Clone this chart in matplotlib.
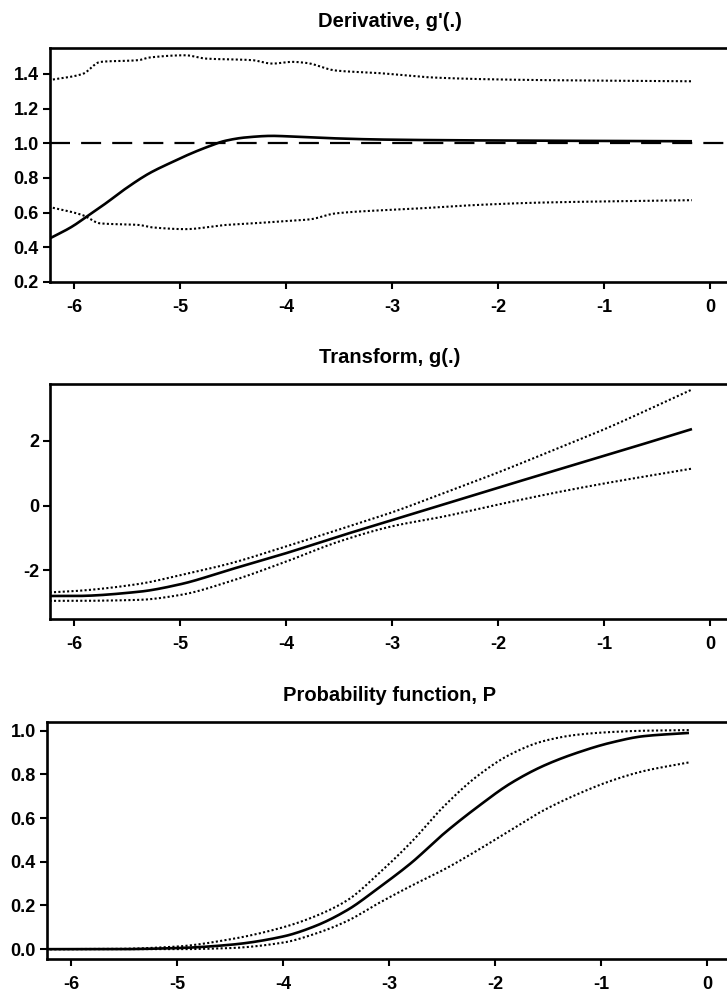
"""
Three stacked panels: derivative, transform and probability function
with their pointwise bands (dotted).
"""

import matplotlib
matplotlib.use("Agg")
import matplotlib.pyplot as plt
import numpy as np

plt.rcParams["font.family"] = ["Liberation Sans", "DejaVu Sans"]
plt.rcParams["axes.unicode_minus"] = False

# --- Derivative, g'(.) ---
d_x = [-6.24, -6.02, -5.86, -5.70, -5.51, -5.29, -5.07, -4.92, -4.76, -4.57, -4.38, -4.13,
       -3.88, -3.69, -3.12, -2.5, -1.5, -0.17]
d_mid = [0.448, 0.519, 0.586, 0.654, 0.74, 0.827, 0.893, 0.935, 0.975, 1.015, 1.034, 1.043,
         1.037, 1.032, 1.022, 1.018, 1.015, 1.012]

d_up_x = [-6.24, -5.92, -5.75, -5.39, -5.29, -4.95, -4.76, -4.32, -4.13, -3.94, -3.81, -3.53,
          -3.12, -2.62, -2.12, -1.61, -0.17]
d_up = [1.364, 1.40, 1.47, 1.48, 1.495, 1.508, 1.489, 1.48, 1.46, 1.47, 1.464, 1.42,
        1.405, 1.38, 1.37, 1.365, 1.358]

d_lo_x = [-6.24, -5.92, -5.75, -5.39, -5.26, -4.95, -4.57, -4.32, -4.0, -3.78, -3.53, -2.81,
          -2.18, -1.61, -0.17]
d_lo = [0.634, 0.586, 0.538, 0.529, 0.515, 0.505, 0.529, 0.538, 0.552, 0.561, 0.596, 0.622,
        0.645, 0.658, 0.672]

# --- Transform, g(.) ---
t_x = [-6.23, -6.0, -5.39, -5.0, -4.52, -4.0, -3.5, -3.0, -2.5, -2.0, -1.44, -1.0, -0.17]
t_mid = [-2.79, -2.79, -2.66, -2.43, -1.97, -1.47, -0.95, -0.45, 0.05, 0.55, 1.10, 1.53, 2.36]
t_up = [-2.68, -2.64, -2.42, -2.15, -1.78, -1.26, -0.74, -0.21, 0.40, 1.02, 1.76, 2.35, 3.58]
t_lo = [-2.94, -2.94, -2.91, -2.76, -2.33, -1.73, -1.11, -0.64, -0.33, 0.03, 0.41, 0.68, 1.14]

# --- Probability function, P ---
p_x = [-6.24, -5.6, -5.0, -4.5, -4.0, -3.70, -3.39, -3.10, -2.79, -2.48, -2.16, -1.85,
       -1.54, -1.22, -0.91, -0.60, -0.17]
p_mid = [0.0, 0.0, 0.005, 0.02, 0.058, 0.105, 0.18, 0.28, 0.395, 0.53, 0.653, 0.76,
         0.84, 0.90, 0.945, 0.975, 0.99]
p_up = [0.0, 0.001, 0.012, 0.045, 0.10, 0.15, 0.225, 0.345, 0.49, 0.655, 0.795, 0.893,
        0.953, 0.982, 0.994, 1.0, 1.003]
p_lo = [0.0, 0.0, 0.0, 0.005, 0.03, 0.07, 0.13, 0.21, 0.29, 0.365, 0.454, 0.546,
        0.636, 0.71, 0.77, 0.815, 0.855]

titles = ["Derivative, g'(.)", "Transform, g(.)", "Probability function, P"]
y_ticks = [[0.2, 0.4, 0.6, 0.8, 1.0, 1.2, 1.4], [-2, 0, 2], [0.0, 0.2, 0.4, 0.6, 0.8, 1.0]]
y_labels = [["0.2", "0.4", "0.6", "0.8", "1.0", "1.2", "1.4"], ["-2", "0", "2"],
            ["0.0", "0.2", "0.4", "0.6", "0.8", "1.0"]]
y_limits = [(0.2, 1.55), (-3.5, 3.75), (-0.045, 1.04)]
x_ticks = [-6, -5, -4, -3, -2, -1, 0]

W, H = 727, 992
fig = plt.figure(figsize=(W / 100, H / 100), dpi=100)

# pixel boxes: left, top, bottom (right runs off the page)
boxes = [(50, 48, 282), (50, 384, 619), (47, 722, 959)]
right_px = 760
px_per_unit = 106.0


def pchip(xs, ys, n=400):
    # shape preserving cubic through the read points
    x = np.asarray(xs, float)
    y = np.asarray(ys, float)
    h = np.diff(x)
    delta = np.diff(y) / h
    m = np.zeros_like(y)
    for k in range(1, len(x) - 1):
        if delta[k - 1] * delta[k] > 0:
            w1 = 2 * h[k] + h[k - 1]
            w2 = h[k] + 2 * h[k - 1]
            m[k] = (w1 + w2) / (w1 / delta[k - 1] + w2 / delta[k])
    m[0] = delta[0]
    m[-1] = delta[-1]
    xx = np.linspace(x[0], x[-1], n)
    idx = np.clip(np.searchsorted(x, xx) - 1, 0, len(x) - 2)
    t = (xx - x[idx]) / h[idx]
    h00 = 2 * t ** 3 - 3 * t ** 2 + 1
    h10 = t ** 3 - 2 * t ** 2 + t
    h01 = -2 * t ** 3 + 3 * t ** 2
    h11 = t ** 3 - t ** 2
    yy = h00 * y[idx] + h10 * h[idx] * m[idx] + h01 * y[idx + 1] + h11 * h[idx] * m[idx + 1]
    return xx, yy


series = [
    [(d_x, d_mid, "-"), (d_up_x, d_up, ":"), (d_lo_x, d_lo, ":")],
    [(t_x, t_mid, "-"), (t_x, t_up, ":"), (t_x, t_lo, ":")],
    [(p_x, p_mid, "-"), (p_x, p_up, ":"), (p_x, p_lo, ":")],
]

for i, (left, top, bottom) in enumerate(boxes):
    ax = fig.add_axes([left / W, 1 - bottom / H, (right_px - left) / W, (bottom - top) / H])
    x_left = -6 - 24 / px_per_unit
    ax.set_xlim(x_left, x_left + (right_px - left) / px_per_unit)
    ax.set_ylim(*y_limits[i])

    for xs, ys, style in series[i]:
        xx, yy = pchip(xs, ys)
        if style == "-":
            ax.plot(xx, yy, color="black", lw=1.9, solid_capstyle="butt")
        else:
            ax.plot(xx, yy, color="black", lw=1.5, linestyle=(0, (1, 1.1)))

    if i == 0:
        ax.axhline(1.0, color="black", lw=1.6, linestyle=(0, (9, 5)))

    for s in ["top", "bottom", "left"]:
        ax.spines[s].set_linewidth(1.9)
    ax.spines["right"].set_visible(False)

    ax.set_xticks(x_ticks)
    ax.set_xticklabels([str(v) for v in x_ticks])
    ax.set_yticks(y_ticks[i])
    ax.set_yticklabels(y_labels[i])
    ax.tick_params(axis="both", direction="out", length=5, width=1.5,
                   labelsize=13, pad=7)
    ax.tick_params(axis="y", pad=3)
    for lab in ax.get_xticklabels() + ax.get_yticklabels():
        lab.set_fontweight("bold")

    ax.set_title(titles[i], fontsize=14.5, fontweight="bold", pad=15,
                 x=(390 - left) / (right_px - left))

fig.savefig("out.png", dpi=100)
